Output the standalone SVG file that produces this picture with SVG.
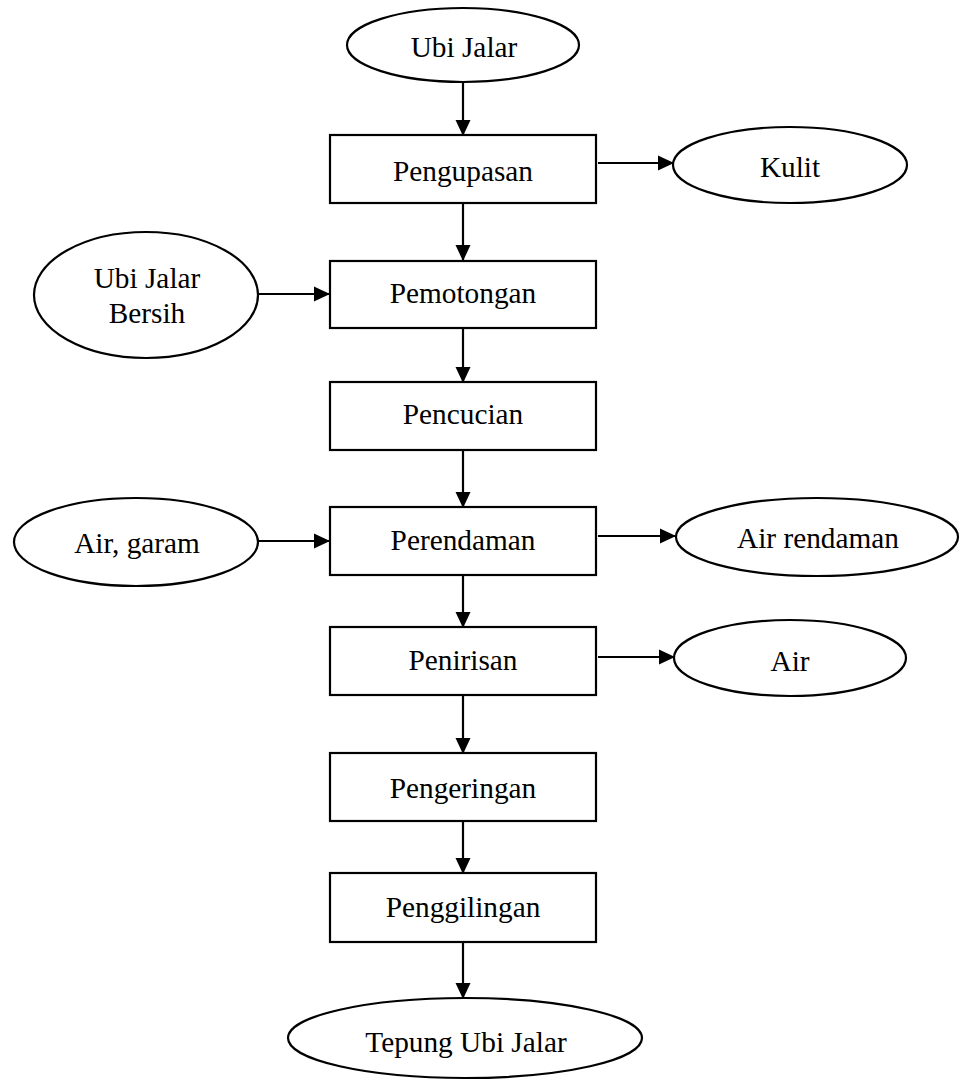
<svg xmlns="http://www.w3.org/2000/svg" width="960" height="1082" viewBox="0 0 960 1082">
<defs>
<marker id="arr" markerUnits="userSpaceOnUse" markerWidth="16" markerHeight="16" refX="15" refY="8" orient="auto">
<path d="M0,0.5 L16,8 L0,15.5 Z" fill="#000"/>
</marker>
<style>
.n{fill:#fff;stroke:#000;stroke-width:2.2}
.t{font-family:"Liberation Serif","Times New Roman",serif;font-size:29.3px;fill:#000;text-anchor:middle}
.c{stroke:#000;stroke-width:2.2;fill:none;marker-end:url(#arr)}
</style>
</defs>
<rect width="960" height="1082" fill="#fff"/>
<g id="connectors">
<line class="c" x1="463" y1="82" x2="463" y2="135"/>
<line class="c" x1="598" y1="163" x2="673" y2="163"/>
<line class="c" x1="463" y1="203" x2="463" y2="260"/>
<line class="c" x1="258" y1="294" x2="329" y2="294"/>
<line class="c" x1="463" y1="328" x2="463" y2="382"/>
<line class="c" x1="463" y1="450" x2="463" y2="507"/>
<line class="c" x1="258" y1="541" x2="329" y2="541"/>
<line class="c" x1="598" y1="536" x2="675" y2="536"/>
<line class="c" x1="463" y1="575" x2="463" y2="627"/>
<line class="c" x1="598" y1="657" x2="674" y2="657"/>
<line class="c" x1="463" y1="695" x2="463" y2="753"/>
<line class="c" x1="463" y1="821" x2="463" y2="873"/>
<line class="c" x1="463" y1="942" x2="463" y2="998"/>
</g>
<g id="ubi-jalar"><ellipse class="n" cx="463" cy="45" rx="116" ry="37"/><text class="t" x="464" y="57">Ubi Jalar</text></g>
<g id="pengupasan"><rect class="n" x="330" y="135" width="266" height="68"/><text class="t" x="463" y="181">Pengupasan</text></g>
<g id="kulit"><ellipse class="n" cx="790" cy="165" rx="117" ry="38"/><text class="t" x="790" y="177">Kulit</text></g>
<g id="ubi-jalar-bersih"><ellipse class="n" cx="146" cy="295" rx="112" ry="63"/><text class="t" x="147" y="288">Ubi Jalar</text><text class="t" x="147" y="323">Bersih</text></g>
<g id="pemotongan"><rect class="n" x="330" y="261" width="266" height="67"/><text class="t" x="463" y="303">Pemotongan</text></g>
<g id="pencucian"><rect class="n" x="330" y="382" width="266" height="68"/><text class="t" x="463" y="424">Pencucian</text></g>
<g id="air-garam"><ellipse class="n" cx="136" cy="542" rx="122" ry="44"/><text class="t" x="137" y="553">Air, garam</text></g>
<g id="perendaman"><rect class="n" x="330" y="507" width="266" height="68"/><text class="t" x="463" y="550">Perendaman</text></g>
<g id="air-rendaman"><ellipse class="n" cx="817" cy="537" rx="141" ry="39"/><text class="t" x="818" y="548">Air rendaman</text></g>
<g id="penirisan"><rect class="n" x="330" y="627" width="266" height="68"/><text class="t" x="463" y="670">Penirisan</text></g>
<g id="air"><ellipse class="n" cx="790" cy="658" rx="116" ry="38"/><text class="t" x="790" y="671">Air</text></g>
<g id="pengeringan"><rect class="n" x="330" y="753" width="266" height="68"/><text class="t" x="463" y="798">Pengeringan</text></g>
<g id="penggilingan"><rect class="n" x="330" y="873" width="266" height="69"/><text class="t" x="463" y="917">Penggilingan</text></g>
<g id="tepung-ubi-jalar"><ellipse class="n" cx="465" cy="1038" rx="177" ry="40"/><text class="t" x="466" y="1052">Tepung Ubi Jalar</text></g>
</svg>
